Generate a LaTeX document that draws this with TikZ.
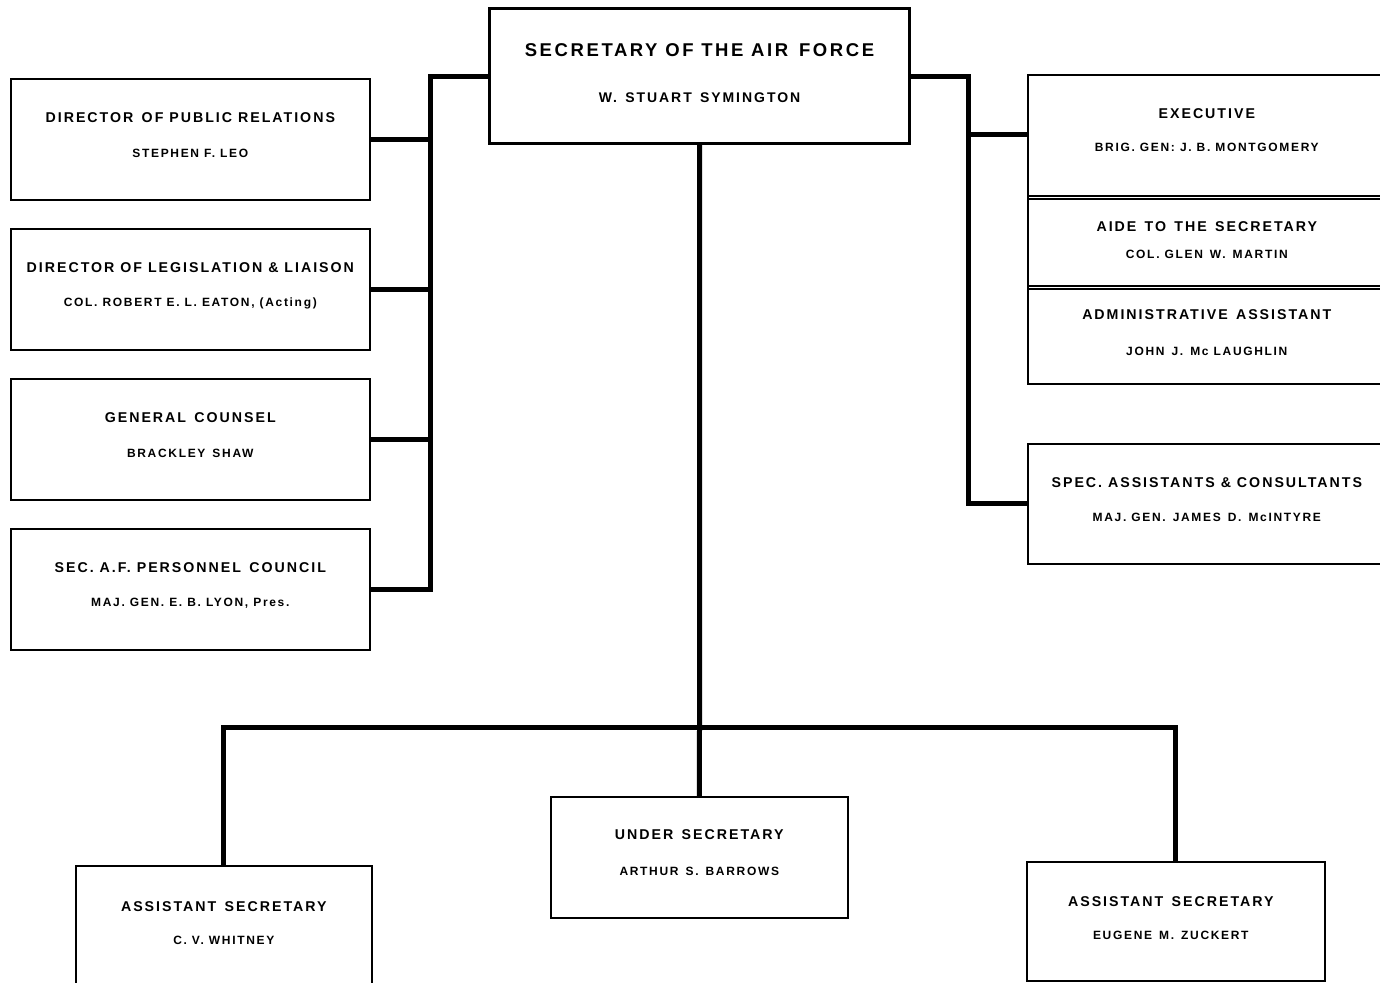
\documentclass[tikz,border=0pt]{standalone}
\usepackage{fontspec}
\newfontfamily\chartfont[LetterSpace=14]{Liberation Sans}
\usetikzlibrary{positioning}

\begin{document}
\begin{tikzpicture}[x=1pt, y=-1pt,
  orgbox/.style={draw, line width=1.6pt, anchor=north west, inner sep=0pt},
  link/.style={line width=5pt},
  rule/.style={line width=1.2pt},
  toptxt/.style={font=\chartfont\bfseries\fontsize{18.5}{21}\selectfont},
  headtxt/.style={font=\chartfont\bfseries\fontsize{14.2}{16}\selectfont},
  nametxt/.style={font=\chartfont\bfseries\fontsize{12}{14}\selectfont}]
\useasboundingbox (0,0) rectangle (1380,982);
\clip (0,0) rectangle (1380,982);

% secretary
\node[orgbox, line width=3pt, minimum width=420pt, minimum height=135pt] (sec) at (488,7) {};
\node[toptxt] (sec-t) at ([yshift=-43pt]sec.north) {SECRETARY OF THE AIR\, FORCE};
\node[headtxt, font=\chartfont\bfseries\fontsize{14}{16}\selectfont] (sec-p) at ([yshift=-91pt]sec.north) {W.\, STUART\, SYMINGTON};

% left staff offices
\foreach \n/\y/\t/\p in {
  pubrel/78/{DIRECTOR\, OF PUBLIC RELATIONS}/{STEPHEN F. LEO},
  legis/228/{DIRECTOR OF LEGISLATION \& LIAISON}/{COL. ROBERT E. L. EATON, (Acting)},
  counsel/378/{GENERAL\, COUNSEL}/{BRACKLEY\, SHAW},
  council/528/{SEC. A.F. PERSONNEL\, COUNCIL}/{MAJ. GEN. E. B. LYON, Pres.}}{
  \node[orgbox, minimum width=359pt, minimum height=121pt] (\n) at (10,\y) {};
  \node[headtxt] (\n-t) at ([yshift=-40pt]\n.north) {\t};
  \node[nametxt] (\n-p) at ([yshift=-75pt]\n.north) {\p};
}
\coordinate (lbus) at (430,0);
\draw[link] (sec.west) -| (lbus |- council.east) -- (council.east);
\foreach \n in {pubrel,legis,counsel}
  \draw[link] (\n.east) -- (\n.east -| lbus);

% right staff offices
\node[orgbox, minimum width=362pt, minimum height=309pt] (staff) at (1027,74) {};
\draw[rule] ([yshift=-122pt]staff.north west) -- ([yshift=-122pt]staff.north east);
\draw[rule] ([yshift=-125pt]staff.north west) -- ([yshift=-125pt]staff.north east);
\draw[rule] ([yshift=-212pt]staff.north west) -- ([yshift=-212pt]staff.north east);
\draw[rule] ([yshift=-215pt]staff.north west) -- ([yshift=-215pt]staff.north east);
\node[headtxt] (exec-t) at ([xshift=-2pt,yshift=-40pt]staff.north) {EXECUTIVE};
\node[nametxt] (exec-p) at ([xshift=-2pt,yshift=-73pt]staff.north) {BRIG. GEN: J. B. MONTGOMERY};
\node[headtxt] (aide-t) at ([xshift=-2pt,yshift=-153pt]staff.north) {AIDE\, TO\, THE\, SECRETARY};
\node[nametxt] (aide-p) at ([xshift=-2pt,yshift=-180pt]staff.north) {COL. GLEN\, W.\, MARTIN};
\node[headtxt] (admin-t) at ([xshift=-2pt,yshift=-241pt]staff.north) {ADMINISTRATIVE\, ASSISTANT};
\node[nametxt] (admin-p) at ([xshift=-2pt,yshift=-277pt]staff.north) {JOHN\, J.\, Mc LAUGHLIN};
\coordinate (exec) at ([yshift=-60pt]staff.north west);

\node[orgbox, minimum width=362pt, minimum height=120pt] (spec) at (1027,443) {};
\node[headtxt] (spec-t) at ([xshift=-2pt,yshift=-40pt]spec.north) {SPEC. ASSISTANTS \& CONSULTANTS};
\node[nametxt] (spec-p) at ([xshift=-2pt,yshift=-74pt]spec.north) {MAJ. GEN.\, JAMES\, D.\, McINTYRE};

\coordinate (rbus) at (968,0);
\draw[link] (sec.east) -| (rbus |- spec.west) -- (spec.west);
\draw[link] (exec -| rbus) -- (exec);

% secretaries below
\node[orgbox, minimum width=297pt, minimum height=121pt] (under) at (550,796) {};
\node[headtxt] (under-t) at ([yshift=-39pt]under.north) {UNDER\, SECRETARY};
\node[nametxt] (under-p) at ([yshift=-75pt]under.north) {ARTHUR\, S.\, BARROWS};

\node[orgbox, minimum width=296pt, minimum height=125pt] (asstl) at (75,865) {};
\node[headtxt] (asstl-t) at ([yshift=-42pt]asstl.north) {ASSISTANT\, SECRETARY};
\node[nametxt] (asstl-p) at ([yshift=-75pt]asstl.north) {C. V. WHITNEY};

\node[orgbox, minimum width=298pt, minimum height=119pt] (asstr) at (1026,861) {};
\node[headtxt] (asstr-t) at ([xshift=-5pt,yshift=-41pt]asstr.north) {ASSISTANT\, SECRETARY};
\node[nametxt] (asstr-p) at ([xshift=-5pt,yshift=-74pt]asstr.north) {EUGENE\, M.\, ZUCKERT};

\coordinate (hub) at (sec.south |- 0,727);
\draw[link] (sec.south) -- (hub) -- (under.north);
\draw[link] (asstl.north) |- (hub) -| (asstr.north);
\end{tikzpicture}
\end{document}
